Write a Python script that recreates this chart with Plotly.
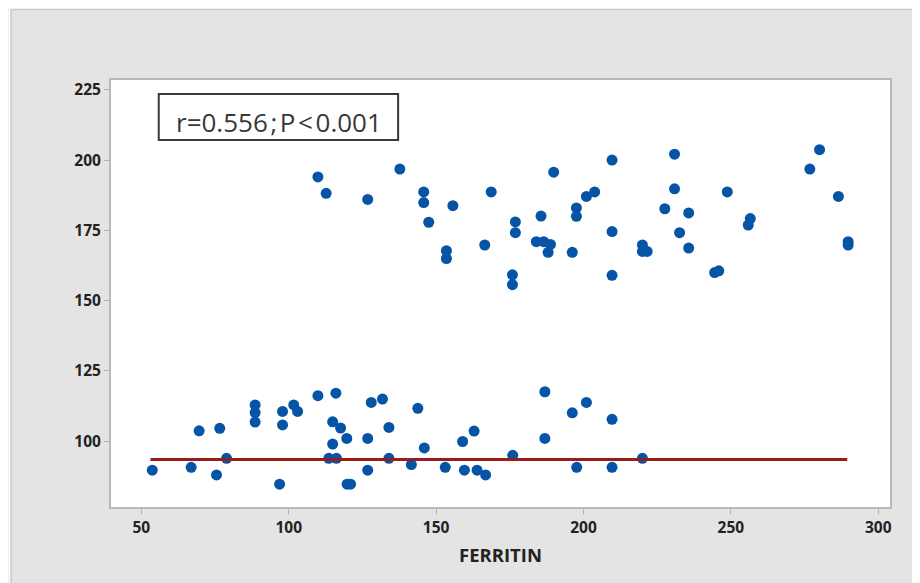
import plotly.graph_objects as go

# Upper cluster (ferritin, value)
ferritin_high = [109.9, 112.7, 126.8, 137.7, 145.8, 145.8, 147.5, 155.7, 168.7, 176.9, 176.9,
                 153.5, 153.5, 166.5, 175.9, 175.9, 189.9, 209.7, 230.9, 280.1, 276.8, 185.6,
                 197.6, 197.6, 201.0, 203.8, 209.7, 184.0, 186.5, 188.8, 188.0, 196.2, 209.7,
                 220.0, 220.0, 221.6, 227.6, 230.9, 235.7, 232.6, 235.7, 248.8, 244.5, 245.9,
                 256.6, 255.9, 286.5, 289.8, 289.8]
value_high = [194.0, 188.2, 186.0, 196.8, 188.7, 184.9, 177.9, 183.8, 188.7, 178.0, 174.2,
              167.8, 165.0, 169.8, 159.2, 155.7, 195.7, 200.0, 202.1, 203.7, 196.8, 180.1,
              183.0, 180.0, 187.1, 188.7, 174.6, 171.0, 171.0, 170.0, 167.2, 167.2, 159.0,
              169.8, 167.5, 167.5, 182.7, 189.8, 181.2, 174.2, 168.7, 188.7, 160.0, 160.6,
              179.2, 176.9, 187.1, 171.0, 169.8]

# Lower cluster
ferritin_low = [53.7, 66.9, 75.5, 69.6, 76.6, 78.9, 88.6, 88.6, 88.6, 96.9, 97.9, 97.9, 101.7,
                103.0, 109.9, 116.0, 114.9, 117.6, 114.9, 119.7, 113.6, 116.2, 119.8, 121.0,
                128.0, 131.8, 126.8, 134.0, 126.8, 134.0, 143.8, 141.6, 146.0, 153.1, 159.0,
                162.9, 159.6, 163.9, 166.8, 176.0, 186.9, 186.9, 196.2, 201.0, 197.7, 209.7,
                209.7, 220.0]
value_low = [89.7, 90.7, 88.0, 103.7, 104.6, 93.9, 112.9, 110.2, 106.8, 84.7, 110.6, 105.8, 112.9,
             110.6, 116.2, 117.1, 106.9, 104.7, 99.0, 101.0, 93.9, 93.9, 84.7, 84.7,
             113.8, 115.0, 101.0, 104.9, 89.7, 93.9, 111.7, 91.7, 97.6, 90.7, 99.9,
             103.6, 89.7, 89.7, 88.0, 95.0, 117.6, 101.0, 110.1, 113.8, 90.7, 107.8,
             90.7, 93.9]

# Reference line
line_x = [53.1, 289.5]
line_y = [93.5, 93.5]

x_ticks = [50, 100, 150, 200, 250, 300]
y_ticks = [100, 125, 150, 175, 200, 225]

annotation_text = "r=0.556\u200a;\u200aP\u200a<\u200a0.001"
x_title = "FERRITIN"

OFF = 8  # page body margin
W, H = 920 - OFF, 583 - OFF
L, R, T, B = 110.5 - OFF, 29.5, 80 - OFF, 76
pw, ph = W - L - R, H - T - B

def px(x):  # page x -> paper
    return (x - OFF - L) / pw

def py(y):  # page y -> paper
    return (H - B - (y - OFF)) / ph

fig = go.Figure()
fig.add_trace(go.Scatter(x=ferritin_high + ferritin_low, y=value_high + value_low,
                         mode="markers",
                         marker=dict(size=11, color="#0654a6", line=dict(width=0)),
                         showlegend=False, hoverinfo="skip"))
fig.add_trace(go.Scatter(x=line_x, y=line_y, mode="lines",
                         line=dict(color="#9b1b1b", width=3),
                         showlegend=False, hoverinfo="skip"))

shapes = [
    dict(type="rect", xref="paper", yref="paper", x0=px(8), x1=px(920), y0=py(9), y1=py(8),
         fillcolor="white", line=dict(width=0)),
    dict(type="rect", xref="paper", yref="paper", x0=px(8), x1=px(10), y0=py(583), y1=py(8),
         fillcolor="white", line=dict(width=0)),
    dict(type="line", xref="paper", yref="paper", x0=px(10), x1=px(920), y0=py(9.5), y1=py(9.5),
         line=dict(color="#c9c9c9", width=1.5)),
    dict(type="line", xref="paper", yref="paper", x0=px(10.5), x1=px(10.5), y0=py(9), y1=py(583),
         line=dict(color="#c9c9c9", width=1.5)),
    dict(type="rect", xref="paper", yref="paper", x0=px(158.3), x1=px(398), y0=py(140), y1=py(94),
         line=dict(color="#3a3a3a", width=2), fillcolor="white"),
]

fig.update_layout(
    width=W, height=H,
    margin=dict(l=L, r=R, t=T, b=B, pad=0),
    paper_bgcolor="#e4e4e4",
    plot_bgcolor="white",
    shapes=shapes,
    annotations=[dict(text=annotation_text, xref="paper", yref="paper",
                      x=px(279), y=py(122), xanchor="center", yanchor="middle",
                      showarrow=False,
                      font=dict(family="Open Sans", size=26, color="#383838"))],
    font=dict(family="Open Sans", color="#222222"),
)
fig.update_xaxes(range=[39.7, 304.0], tickvals=x_ticks, ticks="outside", ticklen=5,
                 tickcolor="#b0b0b0", showgrid=False, zeroline=False,
                 showline=True, linecolor="#b8b8b8", linewidth=2, mirror=True,
                 tickfont=dict(family="Open Sans", size=15.5, color="#222222", weight="bold"),
                 title=dict(text=x_title, font=dict(family="Open Sans", size=18.5, color="#222222", weight="bold"),
                            standoff=12))
fig.update_yaxes(range=[76.6, 228.5], tickvals=y_ticks, ticks="outside", ticklen=5,
                 tickcolor="#b0b0b0", showgrid=False, zeroline=False,
                 showline=True, linecolor="#b8b8b8", linewidth=2, mirror=True,
                 tickfont=dict(family="Open Sans", size=15.5, color="#222222", weight="bold"))

fig.write_html("out.html")
